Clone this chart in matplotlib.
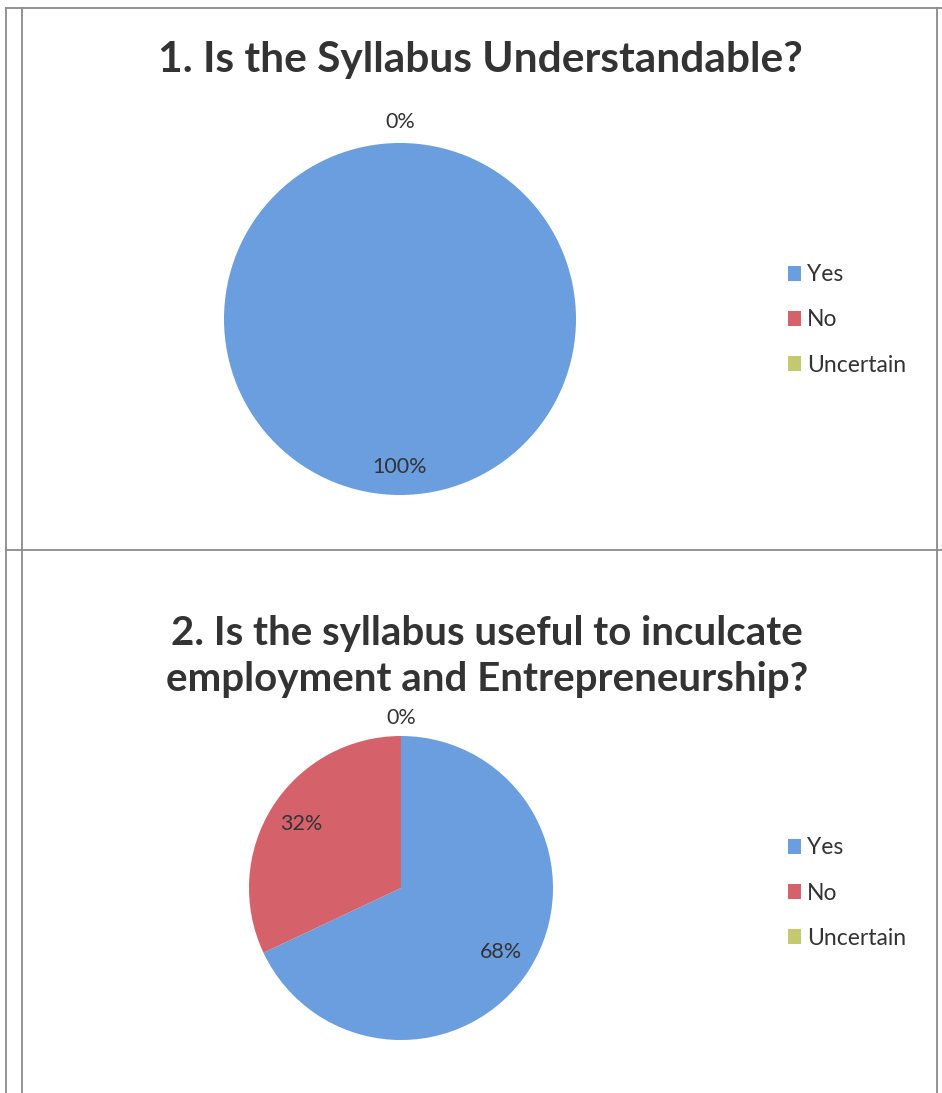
import math
import matplotlib.pyplot as plt
from matplotlib.lines import Line2D

# data
categories = ["Yes", "No", "Uncertain"]
q1_title = "1. Is the Syllabus Understandable?"
q1_values = [100, 0, 0]
q2_title = "2. Is the syllabus useful to inculcate\nemployment and Entrepreneurship?"
q2_values = [68, 32, 0]

colors = ["#6A9EDE", "#D5626B", "#C2C96E"]

plt.rcParams['font.family'] = ['Lato', 'DejaVu Sans']

W, H = 942, 1093
fig = plt.figure(figsize=(W / 100, H / 100), dpi=100)


def fx(x):
    return x / W


def fy(y):
    return 1 - y / H


# table borders (scanned document)
line_kw = dict(color="#8a8a8a", lw=1.3, transform=fig.transFigure)
fig.add_artist(Line2D([fx(6), fx(6)], [fy(8), fy(1093)], **line_kw))
fig.add_artist(Line2D([fx(22), fx(22)], [fy(8), fy(1093)], **line_kw))
fig.add_artist(Line2D([fx(937), fx(937)], [fy(8), fy(1093)], **line_kw))
fig.add_artist(Line2D([fx(6), fx(942)], [fy(8), fy(8)], **line_kw))
fig.add_artist(Line2D([fx(6), fx(942)], [fy(550), fy(550)], **line_kw))


def draw_pie(values, title, cx, cy, r, title_x, title_y, title_size, legend_y):
    ax = fig.add_axes([fx(cx - r), fy(cy + r), (2 * r) / W, (2 * r) / H])
    wedges, _ = ax.pie(values, colors=colors, startangle=90, counterclock=False,
                       radius=1, wedgeprops=dict(linewidth=0))
    ax.set_xlim(-1, 1)
    ax.set_ylim(-1, 1)
    ax.set_aspect('auto')
    ax.axis('off')
    total = sum(values)
    shown_zero = False
    for w, v in zip(wedges, values):
        ang = (w.theta1 + w.theta2) / 2
        if v == 0:
            # only one zero label is visible in the original
            if shown_zero:
                continue
            shown_zero = True
            d = 1.12
        else:
            d = 0.78 if v < total else 0.84
        ax.text(d * math.cos(math.radians(ang)), d * math.sin(math.radians(ang)),
                f"{round(100 * v / total)}%", ha='center', va='center',
                fontsize=15.5, color="#333333", clip_on=False)
    fig.text(fx(title_x), fy(title_y), title, ha='center', va='center',
             fontsize=title_size, fontweight='bold', color="#333333",
             linespacing=1.3)
    fig.legend(wedges, categories, loc='center left',
               bbox_to_anchor=(fx(767), fy(legend_y)), frameon=False,
               fontsize=16.5, handlelength=0.6, handleheight=0.6,
               handletextpad=0.25, labelspacing=1.05, labelcolor="#333333")


draw_pie(q1_values, q1_title, 400, 319, 176, 480, 60, 30.5, 320)
draw_pie(q2_values, q2_title, 401, 888, 152, 487, 656, 29, 893)

fig.savefig("out.png", dpi=100, facecolor="white")
